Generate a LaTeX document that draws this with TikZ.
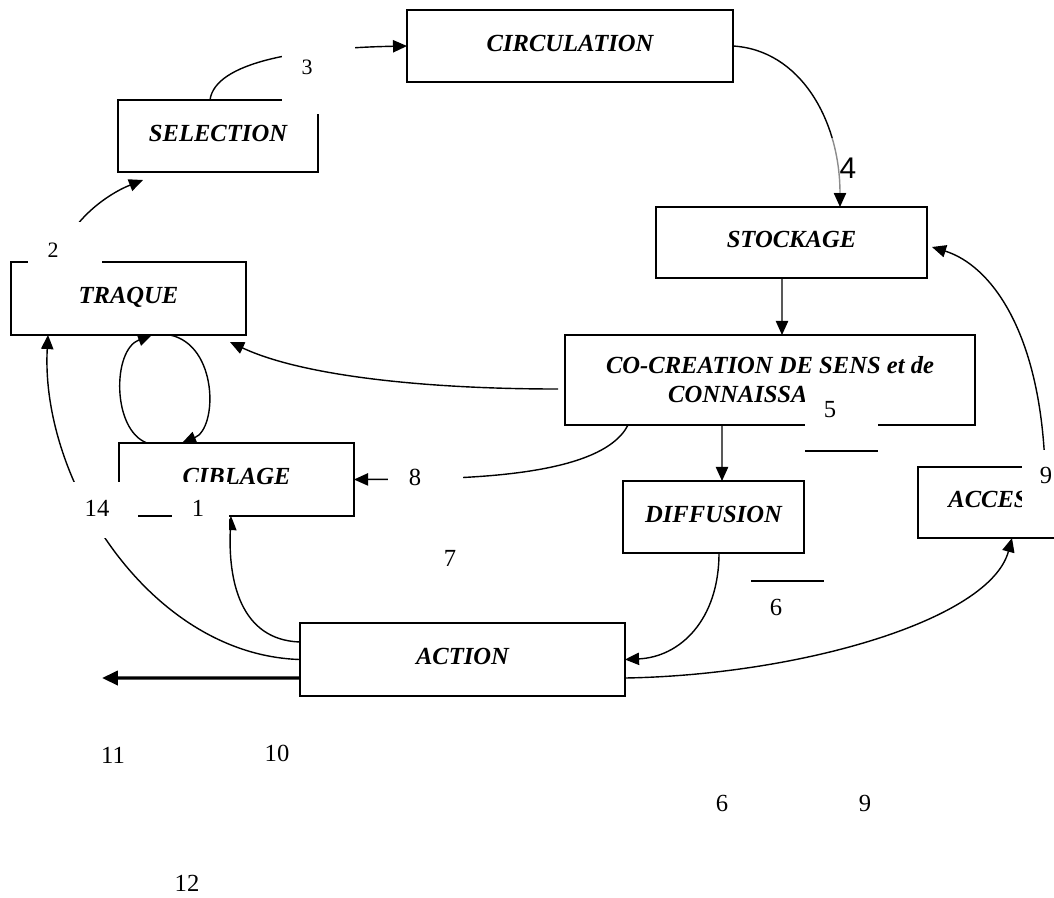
\documentclass[tikz,border=0pt]{standalone}
\usepackage{fontspec}
\setmainfont{Liberation Serif}
\newfontfamily\arialfont{Liberation Sans}
\usetikzlibrary{arrows.meta}

\newcommand{\boxfont}{\fontsize{14}{16.5}\selectfont\bfseries\itshape}

\begin{document}
\begin{tikzpicture}[
  x=0.02cm, y=-0.02cm,
  box/.style={draw,line width=1pt,inner sep=0pt,outer sep=0pt,
              font=\boxfont,text depth=3.4pt},
  cobox/.style={draw,line width=1pt,inner sep=0pt,outer sep=0pt,
                font=\boxfont,align=center},
  num/.style={font=\fontsize{14}{16}\selectfont,inner sep=0pt},
  numsmall/.style={font=\fontsize{12.5}{14}\selectfont,inner sep=0pt},
  link/.style={line width=0.8pt,-{Triangle[length=8pt,width=7pt]}},
  thick link/.style={line width=1.9pt,-{Triangle[length=9pt,width=8pt]}},
  mask/.style={fill=white,draw=none},
]
\useasboundingbox (0,0) rectangle (1054,897);

% ---- Boxes ------------------------------------------------------------------
\node[box,minimum width=6.52cm,minimum height=1.44cm] (circ)  at (570,46)    {CIRCULATION};
\node[box,minimum width=4.00cm,minimum height=1.44cm] (sel)   at (218,136)   {SELECTION};
\node[box,minimum width=5.42cm,minimum height=1.42cm] (stock) at (791.5,242.5){STOCKAGE};
\node[box,minimum width=4.70cm,minimum height=1.46cm] (traq)  at (128.5,298.5){TRAQUE};
\node[cobox,minimum width=8.20cm,minimum height=1.80cm] (cocr) at (770,380)
     {CO-CREATION DE SENS et de\\CONNAISSA\phantom{NCES}};
\node[box,minimum width=4.70cm,minimum height=1.46cm] (cibl)  at (236.5,479.5){CIBLAGE};
\node[box,minimum width=3.62cm,minimum height=1.44cm] (diff)  at (713.5,517) {DIFFUSION};
\node[box,minimum width=2.80cm,minimum height=1.42cm] (acces) at (988,502.5) {ACCES};
\node[box,minimum width=6.50cm,minimum height=1.46cm] (act)   at (462.5,659.5){ACTION};

\coordinate (out) at (102,678);

% ---- Connectors -------------------------------------------------------------
\draw[link] ([xshift=-0.16cm]sel.north) .. controls (215,62) and (300,48) .. (circ.west);
\draw[link] (circ.east) .. controls (800,50) and (840,120) .. ([xshift=0.97cm]stock.north);
\draw[link] ([xshift=-0.19cm]stock.south) -- ([xshift=0.24cm]cocr.north);
\draw[link] ([xshift=-0.96cm]cocr.south) -- ([xshift=0.17cm]diff.north);
\draw[link] ([xshift=0.11cm]diff.south) .. controls (719,620) and (680,657) .. (act.east);
\draw[link] ([yshift=-0.37cm]act.east) .. controls (800,675) and (990,620)
            .. ([xshift=0.48cm]acces.south);
\draw[link] ([xshift=1.14cm]acces.north) .. controls (1040,330) and (990,265)
            .. ([shift={(0.1cm,-0.09cm)}]stock.east);
\draw[link] ([shift={(-0.14cm,-0.18cm)}]cocr.west) .. controls (420,389) and (300,375)
            .. ([shift={(-0.32cm,-0.14cm)}]traq.south east);
\draw[link] ([xshift=-2.84cm]cocr.south) .. controls (600,480) and (450,479) .. (cibl.east);
\draw[link] (act.west) .. controls (150,655) and (40,480) .. ([xshift=-1.61cm]traq.south);
\draw[link] ([yshift=0.35cm]act.west) .. controls (240,640) and (228,580)
            .. ([xshift=-0.11cm]cibl.south);
\draw[thick link] ([yshift=-0.37cm]act.west) -- (out);

% loop between TRAQUE and CIBLAGE
\draw[link] ([xshift=-1.79cm]cibl.north) .. controls (112,430) and (112,350)
            .. ([xshift=0.47cm]traq.south);
\draw[link] ([xshift=0.83cm]traq.south) .. controls (218,345) and (218,428)
            .. ([xshift=-1.09cm]cibl.north);
\draw[link] ([xshift=-1.37cm]traq.north) .. controls (65,225) and (105,195)
            .. ([shift={(-1.5cm,-0.16cm)}]sel.south);

% ---- Label masks --------------------------------------------------------------
\fill[mask] (282,36) rectangle (355,114);
\fill[mask] (28,222) rectangle (102,268);
\fill[white,fill opacity=0.55] (823,138) rectangle (893,193);
\fill[mask] (805,384) rectangle (878,451);
\draw[line width=0.8pt] (805,451) -- (878,451);
\draw[line width=0.8pt] (751,581) -- (824,581);
\fill[mask] (1022,450) rectangle (1060,533);
\fill[mask] (70,482) rectangle (138,538);
\fill[mask] (172,482) rectangle (229,540);
\fill[mask] (229,485) rectangle (300,513);
\fill[mask] (388,458) rectangle (463,500);

% ---- Numbers ------------------------------------------------------------------
\node[numsmall] (n3)  at (307,67)  {3};
\node[font=\arialfont\fontsize{17}{19}\selectfont,inner sep=0pt] (n4) at (848,168) {4};
\node[numsmall] (n2)  at (53,250)  {2};
\node[num] (n5)  at (830,410) {5};
\node[num] (n9)  at (1046,475) {9};
\node[num] (n8)  at (415,477) {8};
\node[num] (n14) at (97,508)  {14};
\node[num] (n1)  at (198,508) {1};
\node[num] (n7)  at (450,558) {7};
\node[num] (n6)  at (776,607) {6};
\node[num] (n11) at (113,755) {11};
\node[num] (n10) at (277,753) {10};
\node[num] (n12) at (187,883) {12};
\node[num] (n6b) at (722,803) {6};
\node[num] (n9b) at (865,803) {9};

\end{tikzpicture}
\end{document}
